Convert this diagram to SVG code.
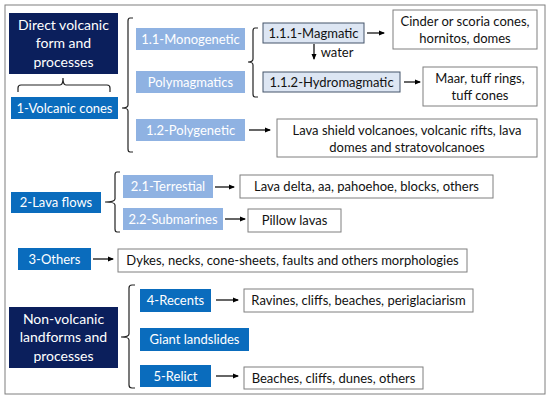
<svg xmlns="http://www.w3.org/2000/svg" width="550" height="400" viewBox="0 0 550 400">
<defs>
<marker id="ah" markerWidth="6" markerHeight="6" refX="5" refY="3" orient="auto" markerUnits="userSpaceOnUse">
<path d="M0,0.5 L6,3 L0,5.5 z" fill="#000"/>
</marker>
<style>
text{font-family:Lato,"Open Sans","Liberation Sans",sans-serif;text-anchor:middle}
.navy{fill:#0b1f5c}
.blue{fill:#0a6cbd}
.lblue{fill:#8fb2e2}
.pale{fill:#dde6f3;stroke:#44546a;stroke-width:1}
.out{fill:#fff;stroke:#7f7f7f;stroke-width:1}
.wt{fill:#fff;font-size:13px}
.wtb{fill:#fff;font-size:14px}
.dt{fill:#111;font-size:13px}
.con{fill:none;stroke:#000;stroke-width:1.2}
.br{fill:none;stroke:#222;stroke-width:1.2}
</style>
</defs>
<rect x="5" y="5" width="540" height="389" fill="#fff" stroke="#7f7f7f" stroke-width="1"/>

<g id="n-direct"><rect class="navy" x="9" y="13" width="109" height="61"/>
<text class="wtb" x="63.5" y="30">Direct volcanic</text><text class="wtb" x="63.5" y="48">form and</text><text class="wtb" x="63.5" y="67">processes</text></g>
<g id="n-cones"><rect class="blue" x="11" y="97" width="107" height="22"/><text class="wt" x="64.5" y="113">1-Volcanic cones</text></g>
<g id="n-mono"><rect class="lblue" x="136" y="28" width="109" height="22"/><text class="wt" x="190.5" y="44">1.1-Monogenetic</text></g>
<g id="n-poly"><rect class="lblue" x="136" y="71" width="109" height="22"/><text class="wt" x="190.5" y="87">Polymagmatics</text></g>
<g id="n-polyg"><rect class="lblue" x="136" y="119" width="109" height="22"/><text class="wt" x="190.5" y="135">1.2-Polygenetic</text></g>
<g id="n-magm"><rect class="pale" x="263" y="23" width="101" height="20"/><text class="dt" x="313.5" y="38">1.1.1-Magmatic</text></g>
<g id="n-hydro"><rect class="pale" x="263" y="72" width="137" height="20"/><text class="dt" x="331.5" y="87">1.1.2-Hydromagmatic</text></g>
<g id="n-cinder"><rect class="out" x="393" y="10" width="144" height="39"/><text class="dt" x="465" y="26">Cinder or scoria cones,</text><text class="dt" x="465" y="43">hornitos, domes</text></g>
<g id="n-maar"><rect class="out" x="423" y="67" width="114" height="39"/><text class="dt" x="480" y="83">Maar, tuff rings,</text><text class="dt" x="480" y="100">tuff cones</text></g>
<g id="n-shield"><rect class="out" x="277" y="119" width="260" height="38"/><text class="dt" x="407" y="135">Lava shield volcanoes, volcanic rifts, lava</text><text class="dt" x="407" y="152">domes and stratovolcanoes</text></g>

<g id="n-lava"><rect class="blue" x="11" y="192" width="90" height="21"/><text class="wt" x="56" y="207">2-Lava flows</text></g>
<g id="n-terr"><rect class="lblue" x="123" y="175" width="90" height="23"/><text class="wt" x="168" y="191">2.1-Terrestial</text></g>
<g id="n-sub"><rect class="lblue" x="123" y="208" width="100" height="22"/><text class="wt" x="173" y="224">2.2-Submarines</text></g>
<g id="n-delta"><rect class="out" x="240" y="175" width="253" height="23"/><text class="dt" x="366.5" y="191">Lava delta, aa, pahoehoe, blocks, others</text></g>
<g id="n-pillow"><rect class="out" x="248" y="209" width="93" height="23"/><text class="dt" x="294.5" y="225">Pillow lavas</text></g>

<g id="n-others"><rect class="blue" x="18" y="248" width="73" height="22"/><text class="wt" x="54.5" y="264">3-Others</text></g>
<g id="n-dykes"><rect class="out" x="118" y="249" width="349" height="23"/><text class="dt" x="292.5" y="265">Dykes, necks, cone-sheets, faults and others morphologies</text></g>

<g id="n-nonvolc"><rect class="navy" x="9" y="307" width="109" height="61"/>
<text class="wtb" x="63.5" y="324">Non-volcanic</text><text class="wtb" x="63.5" y="342">landforms and</text><text class="wtb" x="63.5" y="361">processes</text></g>
<g id="n-recents"><rect class="blue" x="140" y="289" width="71" height="23"/><text class="wt" x="175.5" y="305">4-Recents</text></g>
<g id="n-giant"><rect class="blue" x="140" y="328" width="109" height="23"/><text class="wt" x="194.5" y="344">Giant landslides</text></g>
<g id="n-relict"><rect class="blue" x="140" y="365" width="71" height="22"/><text class="wt" x="175.5" y="381">5-Relict</text></g>
<g id="n-ravines"><rect class="out" x="244" y="289" width="229" height="23"/><text class="dt" x="358.5" y="305">Ravines, cliffs, beaches, periglaciarism</text></g>
<g id="n-beaches"><rect class="out" x="244" y="367" width="179" height="22"/><text class="dt" x="333.5" y="383">Beaches, cliffs, dunes, others</text></g>

<g id="connectors">
<path class="br" d="M18,92 L18,88 Q18,85 21,85 L60,85 Q63,85 63,78 Q63,85 66,85 L107,85 Q110,85 110,88 L110,92"/>
<path class="br" d="M133,18 L130,18 Q128,18 128,21 L128,105 Q128,108 122,108 Q128,108 128,111 L128,149 Q128,152 130,152 L133,152"/>
<path class="br" d="M258,28 L255,28 Q253,28 253,31 L253,59 Q253,62 248,62 Q253,62 253,65 L253,94 Q253,97 255,97 L258,97"/>
<path class="br" d="M120,172 L117,172 Q115,172 115,175 L115,199 Q115,202 105,202 Q115,202 115,205 L115,229 Q115,232 117,232 L120,232"/>
<path class="br" d="M135,285 L132,285 Q129,285 129,288 L129,334 Q129,337 121,337 Q129,337 129,340 L129,385 Q129,388 132,388 L135,388"/>
<line class="con" x1="367" y1="33" x2="384" y2="33" marker-end="url(#ah)"/>
<line class="con" x1="314" y1="44" x2="314" y2="59" marker-end="url(#ah)"/>
<text class="dt" x="337" y="57">water</text>
<line class="con" x1="404" y1="82" x2="420" y2="82" marker-end="url(#ah)"/>
<line class="con" x1="249" y1="130" x2="270" y2="130" marker-end="url(#ah)"/>
<line class="con" x1="215" y1="187" x2="234" y2="187" marker-end="url(#ah)"/>
<line class="con" x1="225" y1="219" x2="245" y2="219" marker-end="url(#ah)"/>
<line class="con" x1="93" y1="259" x2="113" y2="259" marker-end="url(#ah)"/>
<line class="con" x1="216" y1="300" x2="238" y2="300" marker-end="url(#ah)"/>
<line class="con" x1="216" y1="376" x2="238" y2="376" marker-end="url(#ah)"/>
</g>
</svg>
